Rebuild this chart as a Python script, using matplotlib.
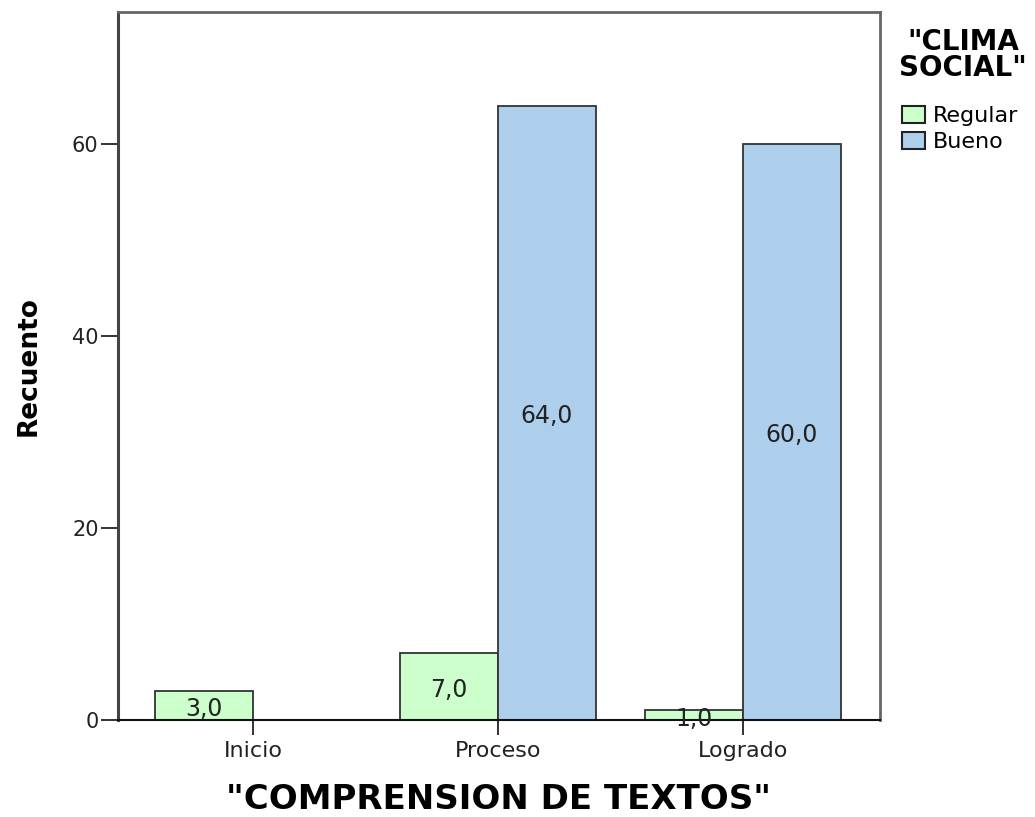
import matplotlib
matplotlib.use("Agg")
import matplotlib.pyplot as plt
import numpy as np

plt.rcParams['font.family'] = ['DejaVu Sans']

# datos
categorias = ['Inicio', 'Proceso', 'Logrado']
regular = [3, 7, 1]
bueno = [0, 64, 60]
series = ['Regular', 'Bueno']

fig = plt.figure(figsize=(10.35, 8.17), dpi=100)
ax = fig.add_axes([0.114, 0.1187, 0.736, 0.8666])

x = np.arange(len(categorias))
w = 0.4
b1 = ax.bar(x - w / 2, regular, w, color='#ccffcc', edgecolor='#333333', linewidth=1.3, label=series[0])
b2 = ax.bar(x[1:] + w / 2, bueno[1:], w, color='#aecfec', edgecolor='#333333', linewidth=1.3, label=series[1])

# etiquetas dentro de las barras
for rect, v in zip(list(b1) + list(b2), regular + bueno[1:]):
    ax.annotate(f'{v:.1f}'.replace('.', ','), (rect.get_x() + rect.get_width() / 2, v / 2),
                xytext=(0, -2.5), textcoords='offset points',
                ha='center', va='center', fontsize=17, color='#222222')

ax.set_xlim(-0.551, 2.559)
ax.set_ylim(0, 73.75)
ax.set_yticks([0, 20, 40, 60])
ax.set_xticks(x)
ax.set_xticklabels(categorias)
ax.tick_params(axis='both', direction='out', width=1.3, colors='#222222')
ax.tick_params(axis='y', length=12, pad=2, labelsize=15)
ax.tick_params(axis='x', length=11, pad=4, labelsize=16)

for s in ['left', 'top', 'right']:
    ax.spines[s].set_color('#666666')
    ax.spines[s].set_linewidth(2)
ax.spines['left'].set_color('#444444')
ax.spines['left'].set_linewidth(2.2)
ax.spines['bottom'].set_color('#111111')
ax.spines['bottom'].set_linewidth(1.5)

ax.set_ylabel('Recuento', fontsize=19, fontweight='bold', labelpad=22)
ax.set_xlabel('"COMPRENSION DE TEXTOS"', fontsize=24.5, fontweight='bold', labelpad=16)

# leyenda
fig.text(963 / 1035, 1 - 55 / 817, '"CLIMA\nSOCIAL"', ha='center', va='center',
         fontsize=20, fontweight='bold', linespacing=0.95)
leg = ax.legend(loc='upper left', bbox_to_anchor=(902 / 1035, 1 - 106 / 817),
                bbox_transform=fig.transFigure, frameon=False, fontsize=16,
                handlelength=1.05, handleheight=0.8, handletextpad=0.35,
                labelspacing=0.25, borderpad=0, borderaxespad=0)
for p in leg.get_patches():
    p.set_edgecolor('#222222')
    p.set_linewidth(1.5)

fig.savefig('out.png', dpi=100)
